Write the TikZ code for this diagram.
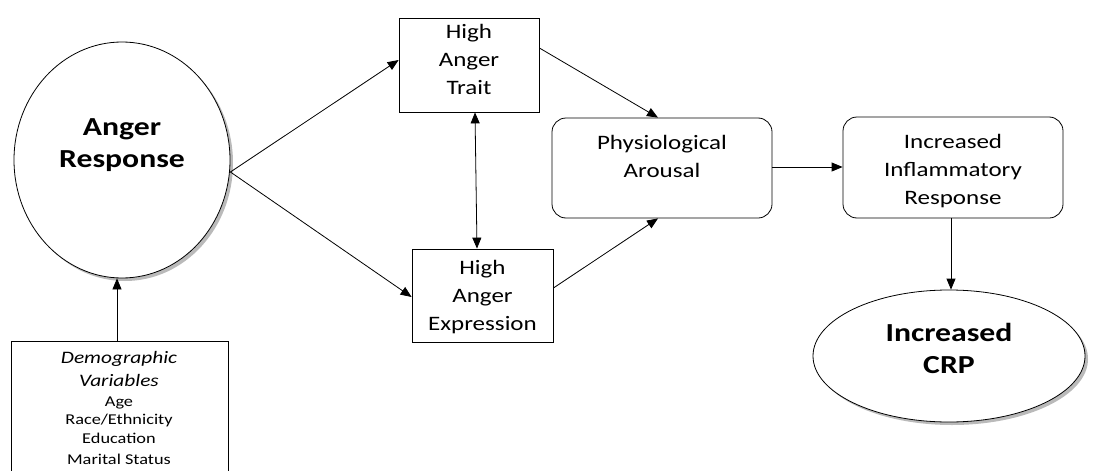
\documentclass[tikz,border=0pt]{standalone}
\usepackage{fontspec}
\setmainfont{Carlito}[FakeStretch=1.22]
\usetikzlibrary{shapes.geometric,arrows.meta,shadows}
\begin{document}
\begin{tikzpicture}[x=1pt,y=-1pt,
  tip/.tip={Triangle[length=11pt,width=9pt]},
  conn/.style={draw,line width=0.8pt,-tip},
  rect/.style={draw,line width=0.8pt,fill=white,inner sep=0pt,align=center},
  rbox/.style={rect,rounded corners=14pt},
  oval/.style={draw,ellipse,line width=0.8pt,fill=white,inner sep=0pt,
     drop shadow={shadow xshift=3pt,shadow yshift=-3pt,opacity=0.45,fill=black!60}},
  boxtext/.style={font=\fontsize{20.5}{28}\selectfont,align=center},
  bigtext/.style={font=\fontsize{26}{32}\selectfont\bfseries,align=center}
]
\useasboundingbox (0,0) rectangle (1095,471);
% nodes
\node[oval,minimum width=216pt,minimum height=236pt] (anger) at (122,160) {};
\node[bigtext] (angert) at (122,145) {Anger\\Response};
\node[rect,minimum width=217pt,minimum height=130pt,anchor=north west] (demo) at (11,341) {};
\node[align=center,font=\fontsize{15}{19}\selectfont] (demot) at (119,408) {{\fontsize{17.5}{19}\selectfont\itshape Demographic}\\[4pt]{\fontsize{17.5}{19}\selectfont\itshape Variables}\\[1pt]Age\\[-1pt]Race/Ethnicity\\Education\\[2pt]Marital Status};
\node[rect,minimum width=140pt,minimum height=94pt] (trait) at (469,65) {};
\node[boxtext] (traitt) at (469,59) {High\\Anger\\Trait};
\node[rect,minimum width=141pt,minimum height=93pt] (expr) at (482.5,295.5) {};
\node[boxtext] (exprt) at (482.5,297) {High\\Anger\\Expression};
\node[rbox,minimum width=220pt,minimum height=100pt] (phys) at (662,168) {};
\node[boxtext] (physt) at (662,156) {Physiological\\Arousal};
\node[rbox,minimum width=220pt,minimum height=101pt] (infl) at (953,167.5) {};
\node[boxtext] (inflt) at (953,171) {Increased\\Inflammatory\\Response};
\node[oval,minimum width=272pt,minimum height=132pt] (crp) at (949,356) {};
\node[bigtext] (crpt) at (949,348) {Increased\\CRP};
% connectors
\coordinate (a1) at (230,172);
\draw[conn] (demo.north -| 117,0) -- (anger.south -| 117,0);
\draw[conn] (anger.east |- a1) -- (trait.west |- 0,60);
\draw[conn] (anger.east |- a1) -- (expr.west |- 0,297);
\draw[line width=0.8pt,tip-tip] (trait.south -| 475,0) -- (expr.north -| 477,0);
\draw[conn] (trait.east |- 0,48) -- (phys.north -| 658,0);
\draw[conn] (expr.east |- 0,288) -- (phys.south -| 658,0);
\draw[conn] (phys.east |- 0,167) -- (infl.west |- 0,167);
\draw[conn] (infl.south -| 951,0) -- (crp.north -| 951,0);
\end{tikzpicture}
\end{document}
